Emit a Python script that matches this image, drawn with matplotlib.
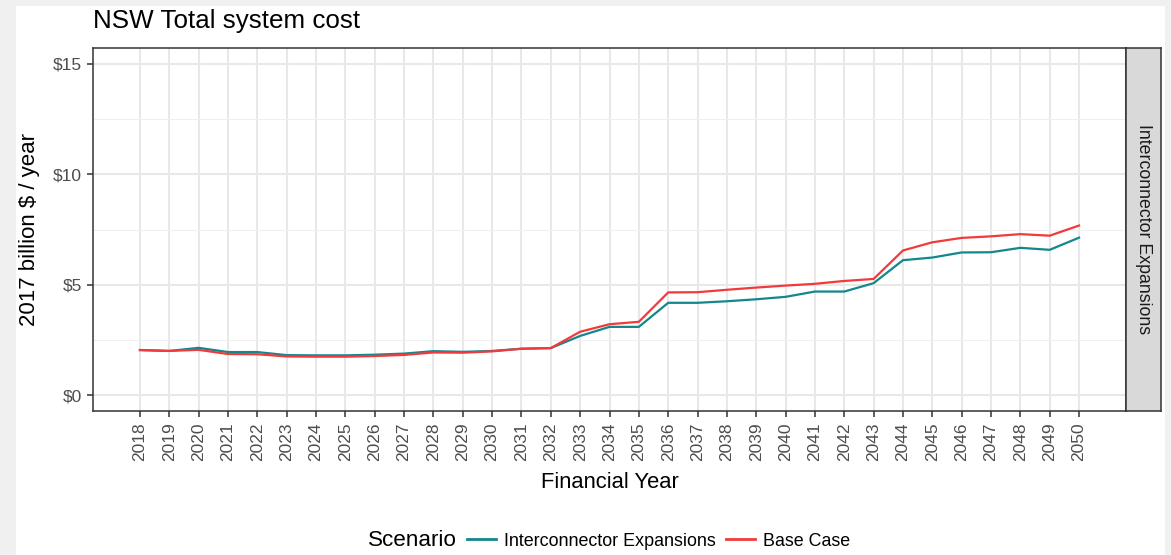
import matplotlib.pyplot as plt
from matplotlib.patches import Rectangle
from matplotlib.lines import Line2D

plt.rcParams['font.family'] = ['Liberation Sans', 'DejaVu Sans']

# data (2017 billion $ / year)
years = ['2018', '2019', '2020', '2021', '2022', '2023', '2024', '2025', '2026', '2027', '2028',
         '2029', '2030', '2031', '2032', '2033', '2034', '2035', '2036', '2037', '2038', '2039',
         '2040', '2041', '2042', '2043', '2044', '2045', '2046', '2047', '2048', '2049', '2050']
interconnector = [2.04, 2.00, 2.14, 1.95, 1.95, 1.81, 1.80, 1.80, 1.83, 1.88, 1.99,
                  1.96, 2.00, 2.10, 2.13, 2.68, 3.09, 3.09, 4.18, 4.18, 4.25, 4.34,
                  4.45, 4.69, 4.69, 5.07, 6.11, 6.23, 6.46, 6.47, 6.67, 6.58, 7.13]
base_case = [2.04, 2.00, 2.05, 1.86, 1.85, 1.75, 1.74, 1.74, 1.77, 1.82, 1.93,
             1.92, 1.98, 2.10, 2.13, 2.87, 3.21, 3.32, 4.65, 4.66, 4.77, 4.87,
             4.96, 5.04, 5.17, 5.26, 6.55, 6.92, 7.12, 7.19, 7.29, 7.22, 7.68]
yticks = [0, 5, 10, 15]
ytick_labels = ['$0', '$5', '$10', '$15']

TEAL = '#13878c'
RED = '#f23a3c'
W, H = 1171, 555


def box(l, t, r, b):
    # pixel box -> figure fraction
    return [l / W, 1 - b / H, (r - l) / W, (b - t) / H]


fig = plt.figure(figsize=(W / 100, H / 100), dpi=100, facecolor='#f0f0f0')
fig.patches.append(Rectangle((16 / W, 0), (1165 - 16) / W, (H - 6) / H,
                             transform=fig.transFigure, facecolor='white',
                             edgecolor='none', zorder=-10))

ax = fig.add_axes(box(93, 48, 1126, 411))
ax.set_facecolor('white')
x = list(range(len(years)))
ax.plot(x, interconnector, color=TEAL, lw=1.6, zorder=3)
ax.plot(x, base_case, color=RED, lw=1.6, zorder=3)

ax.set_xlim(-1.6, len(years) - 1 + 1.6)
ax.set_ylim(-0.72, 15.72)
ax.set_xticks(x)
ax.set_xticklabels(years, rotation=90, fontsize=12.5, color='#4d4d4d')
ax.set_yticks(yticks)
ax.set_yticklabels(ytick_labels, fontsize=12.5, color='#4d4d4d')
ax.set_yticks([2.5, 7.5, 12.5], minor=True)
ax.tick_params(which='major', length=4, width=1.1, color='#333333', pad=4)
ax.tick_params(which='minor', length=0)
ax.grid(which='major', color='#e8e8e8', lw=1.5)
ax.grid(which='minor', axis='y', color='#efefef', lw=0.8)
ax.set_axisbelow(True)
for s in ax.spines.values():
    s.set_color('#333333')
    s.set_linewidth(1.1)

# facet strip on the right
strip = fig.add_axes(box(1126, 48, 1161, 411))
strip.set_facecolor('#d9d9d9')
strip.set_xticks([])
strip.set_yticks([])
for s in strip.spines.values():
    s.set_color('#333333')
    s.set_linewidth(1.1)
strip.text(0.5, 0.5, 'Interconnector Expansions', rotation=-90, ha='center', va='center',
           fontsize=12.8, color='#1a1a1a', transform=strip.transAxes)

fig.text(93 / W, 1 - 28 / H, 'NSW Total system cost', fontsize=18.7, ha='left', va='baseline')
fig.text(30 / W, 1 - 229 / H, '2017 billion $ / year', fontsize=16, rotation=90,
         ha='center', va='center')
fig.text(609.5 / W, 1 - 482 / H, 'Financial Year', fontsize=15.8, ha='center', va='center')

# legend
fig.text(368 / W, 1 - 541 / H, 'Scenario', fontsize=16.2, ha='left', va='center')
handles = [Line2D([], [], color=TEAL, lw=2), Line2D([], [], color=RED, lw=2)]
fig.legend(handles, ['Interconnector Expansions', 'Base Case'], ncol=2, frameon=False,
           loc='center left', bbox_to_anchor=(467 / W, 1 - 541 / H), fontsize=12.9,
           handlelength=1.62, handletextpad=0.45, columnspacing=0.55,
           borderpad=0, borderaxespad=0)

fig.savefig('out.png', dpi=100, facecolor=fig.get_facecolor())
